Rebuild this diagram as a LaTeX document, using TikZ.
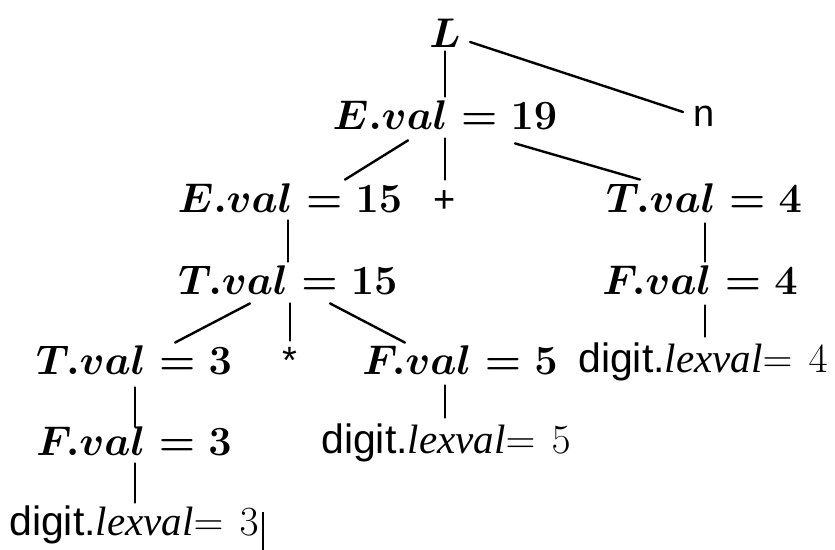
\documentclass[tikz,border=0pt]{standalone}
\usepackage{fontspec}
\newfontfamily\hsans{Liberation Sans}
\newfontfamily\tserif{Liberation Serif}
\usetikzlibrary{calc}
\tikzset{
  lab/.style={inner sep=0pt, anchor=base, text height=14pt, text depth=4pt},
  mathlab/.style={lab, font=\fontsize{20.5}{24}\selectfont\boldmath},
  diglab/.style={lab, font=\fontsize{20.5}{24}\selectfont},
  symlab/.style={lab, font=\hsans\fontsize{19}{22}\selectfont},
  edge/.style={line width=1.2pt, line cap=round}
}
\newcommand\dig[1]{{\hsans digit.}{\tserif\itshape lexval}$=\mkern2mu#1$}
\begin{document}
\begin{tikzpicture}[x=0.5pt,y=-0.5pt]
\useasboundingbox (0,0) rectangle (835,550);
% nodes
\node[mathlab] (L)   at (445,48)  {$L$};
\node[mathlab] (E19) at (445,130) {$E.val = 19$};
\node[symlab]  (n)   at (704,127) {n};
\node[mathlab] (E15) at (290,213) {$E.val = 15$};
\node[symlab]  (plus) at (445,213) {+};
\node[mathlab] (T4)  at (704,213) {$T.val = 4$};
\node[mathlab] (T15) at (288,295) {$T.val = 15$};
\node[mathlab] (F4)  at (700,295) {$F.val = 4$};
\node[mathlab] (T3)  at (134,375) {$T.val = 3$};
\node[symlab]  (star) at (290,374) {*};
\node[mathlab] (F5)  at (460,375) {$F.val = 5$};
\node[diglab]  (D4)  at (703,373) {\dig{4}};
\node[mathlab] (F3)  at (134,455) {$F.val = 3$};
\node[diglab]  (D5)  at (446,453) {\dig{5}};
\node[diglab]  (D3)  at (134,535) {\dig{3}};
% edges
\draw[edge] ($(L.south)+(0,-5)$) -- ($(E19.north)+(0,-5)$);
\draw[edge] ($(L.east)+(9,4)$) -- ($(n.west)+(-10,-5)$);
\draw[edge] ($(E19.south)+(-37,2)$) -- ($(E15.north)+(55,-5)$);
\draw[edge] (E19.south) -- ($(plus.north)+(0,-5)$);
\draw[edge] ($(E19.south)+(70,5)$) -- ($(T4.north)+(-64,-5)$);
\draw[edge] ($(E15.south)+(-2,-1)$) -- ($(T15.north)+(0,-5)$);
\draw[edge] ($(T4.south)+(1,2)$) -- ($(F4.north)+(5,-5)$);
\draw[edge] ($(T15.south)+(-38,0)$) -- ($(T3.north)+(41,-4)$);
\draw[edge] ($(T15.south)+(2,0)$) -- ($(star.north)+(0,-5)$);
\draw[edge] ($(T15.south)+(42,0)$) -- ($(F5.north)+(-55,-4)$);
\draw[edge] ($(F4.south)+(5,2)$) -- ($(D4.north)+(2,-8)$);
\draw[edge] ($(T3.south)+(1,4)$) -- ($(F3.north)+(1,0)$);
\draw[edge] ($(F5.south)+(-15,2)$) -- ($(D5.north)+(-1,-7)$);
\draw[edge] ($(F3.south)+(1,0)$) -- ($(D3.north)+(1,-4)$);
\draw[line width=0.8pt] ($(D3.south east)+(4,-31)$) -- ($(D3.south east)+(4,7)$);
\end{tikzpicture}
\end{document}
